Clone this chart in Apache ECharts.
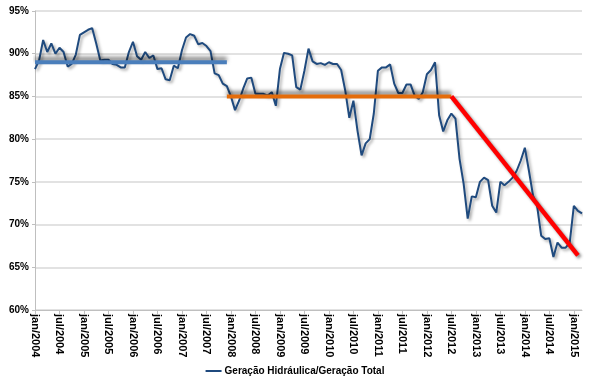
<!DOCTYPE html>
<html>
<head>
<meta charset="utf-8">
<script src="https://cdn.jsdelivr.net/npm/echarts@6/dist/echarts.min.js"></script>
<style>
html,body{margin:0;padding:0;background:#fff;}
#chart{width:590px;height:390px;}
</style>
</head>
<body>
<div id="chart"></div>
<script>
// Months (Portuguese abbreviations) and range of the series
const monthNames = ['jan','fev','mar','abr','mai','jun','jul','ago','set','out','nov','dez'];
const startYear = 2004;
const monthCount = 135; // jan/2004 .. mar/2015

// Geração Hidráulica / Geração Total (%), monthly
const hydroShare = [
  88.2, 89.2, 91.6, 90.2, 91.2, 90.0, 90.7, 90.2, 88.5, 88.8, 89.9, 92.2,
  92.5, 92.8, 93.0, 91.2, 89.2, 89.3, 89.3, 88.8, 88.7, 88.4, 88.4, 90.2,
  91.4, 89.7, 89.3, 90.2, 89.5, 89.8, 88.2, 88.3, 87.0, 86.9, 88.6, 88.3,
  90.4, 91.9, 92.3, 92.1, 91.1, 91.25, 90.9, 90.3, 87.7, 87.5, 86.5, 86.2,
  85.0, 83.4, 84.5, 85.9, 87.1, 87.2, 85.3, 85.3, 85.3, 85.1, 85.5, 83.9,
  88.2, 90.1, 90.0, 89.8, 86.1, 85.8, 88.0, 90.6, 89.1, 88.8, 88.9, 88.7,
  89.0, 88.8, 88.8, 88.1, 85.7, 82.5, 84.5, 81.0, 78.1, 79.5, 80.0, 83.0,
  88.0, 88.4, 88.4, 88.75, 86.5, 85.4, 85.4, 86.4, 86.4, 85.1, 84.7, 85.5,
  87.6, 88.1, 89.0, 82.8, 80.9, 82.2, 83.0, 82.4, 77.7, 74.8, 70.7, 73.3,
  73.2, 75.0, 75.5, 75.2, 72.2, 71.4, 75.0, 74.6, 75.0, 75.5, 76.3, 77.5,
  79.0, 76.3, 73.4, 72.2, 68.7, 68.3, 68.4, 66.2, 67.9, 67.3, 67.3, 67.9,
  72.2, 71.6, 71.3
];

// Trend segments: [start month index, end month index], [start value, end value]
const trendBlueIdx = [0, 47];
const trendBlueVal = [89.0, 89.0];
const trendOrangeIdx = [47, 102];
const trendOrangeVal = [85.0, 85.0];
const trendRedIdx = [102, 133];
const trendRedVal = [85.0, 66.4];

// Y axis ticks
const yMin = 60, yMax = 95, yStep = 5;

const seriesName = 'Geração Hidráulica/Geração Total';

const categories = [];
for (let i = 0; i < monthCount; i++) {
  categories.push(monthNames[i % 12] + '/' + (startYear + Math.floor(i / 12)));
}

function seg(idx, val) {
  return [[idx[0], val[0]], [idx[1], val[1]]];
}

const FONT = 'Liberation Sans';
const chart = echarts.init(document.getElementById('chart'), null, {renderer: 'canvas'});
chart.setOption({
  animation: false,
  backgroundColor: '#ffffff',
  grid: {left: 35, right: 8, top: 11, bottom: 80, containLabel: false},
  legend: {
    data: [{name: seriesName, icon: 'rect'}],
    bottom: 9,
    left: 'center',
    itemWidth: 16,
    itemHeight: 2,
    itemGap: 4,
    textStyle: {fontFamily: FONT, fontSize: 10, fontWeight: 'bold', color: '#000', padding: [0,0,0,-2]}
  },
  xAxis: {
    type: 'category',
    data: categories,
    boundaryGap: false,
    axisLine: {lineStyle: {color: '#BFBFBF', width: 1}},
    axisTick: {interval: 5, length: 4, lineStyle: {color: '#BFBFBF'}},
    axisLabel: {
      interval: 5, rotate: -90, margin: 4,
      fontFamily: FONT, fontSize: 11, fontWeight: 'bold', color: '#000'
    },
    splitLine: {show: false}
  },
  yAxis: {
    type: 'value',
    min: yMin, max: yMax, interval: yStep,
    axisLine: {show: true, lineStyle: {color: '#BFBFBF', width: 1}},
    axisTick: {show: true, length: 3, lineStyle: {color: '#BFBFBF'}},
    axisLabel: {
      formatter: '{value}%', margin: 6,
      fontFamily: FONT, fontSize: 10, fontWeight: 'bold', color: '#000'
    },
    splitLine: {lineStyle: {color: '#D9D9D9', width: 1.5}}
  },
  series: [
    {
      name: seriesName,
      type: 'line',
      data: hydroShare,
      showSymbol: false,
      symbol: 'none',
      color: '#1F4A7E',
      lineStyle: {width: 2, color: '#1F4A7E', shadowColor: 'rgba(0,0,0,0.35)', shadowBlur: 3, shadowOffsetX: 2, shadowOffsetY: 2},
      z: 2
    },
    {
      name: 'trendBlue',
      type: 'line',
      data: seg(trendBlueIdx, trendBlueVal),
      symbol: 'none',
      lineStyle: {width: 4, color: '#4A7EBB', cap: 'butt', shadowColor: 'rgba(0,0,0,0.55)', shadowBlur: 4, shadowOffsetY: -3},
      z: 3
    },
    {
      name: 'trendOrange',
      type: 'line',
      data: seg(trendOrangeIdx, trendOrangeVal),
      symbol: 'none',
      lineStyle: {width: 4, color: '#E46C0A', cap: 'butt', shadowColor: 'rgba(0,0,0,0.55)', shadowBlur: 4, shadowOffsetY: -3},
      z: 3
    },
    {
      name: 'trendRed',
      type: 'line',
      data: seg(trendRedIdx, trendRedVal),
      symbol: 'none',
      lineStyle: {width: 4.5, color: '#FF0000', cap: 'butt', shadowColor: 'rgba(0,0,0,0.45)', shadowBlur: 3, shadowOffsetX: 2, shadowOffsetY: 2},
      z: 4
    }
  ]
});
</script>
</body>
</html>
